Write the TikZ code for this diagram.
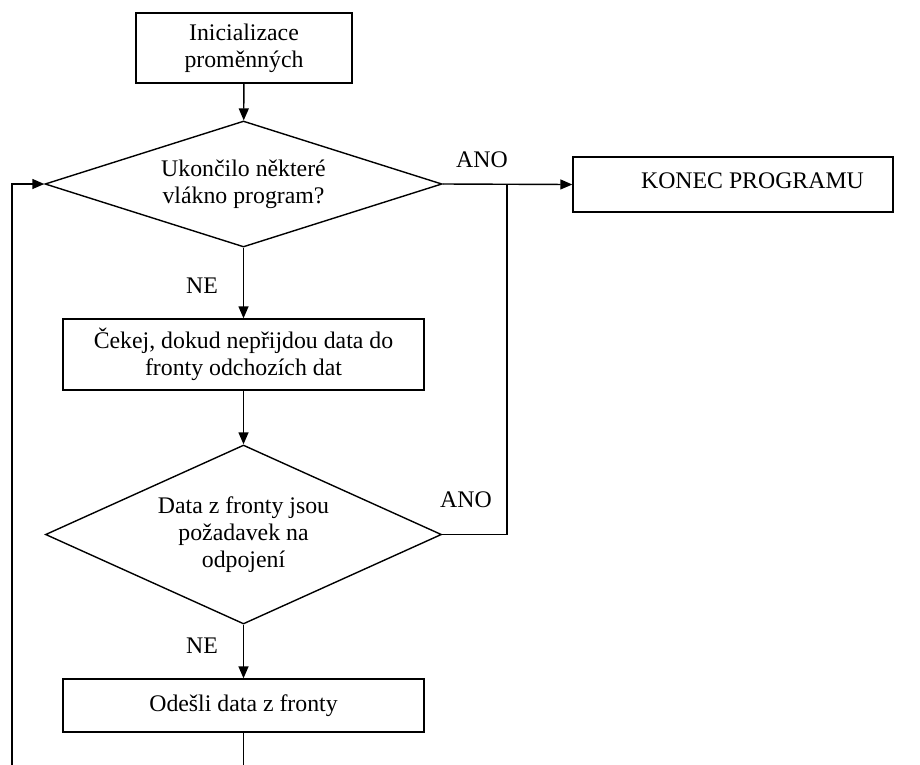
\documentclass[tikz,border=0pt]{standalone}
\usepackage{fontspec}
\setmainfont{Liberation Serif}
\usetikzlibrary{arrows.meta,shapes.geometric}
\begin{document}
\begin{tikzpicture}[x=1pt,y=-1pt,
  every node/.style={font=\fontsize{23.8}{27}\selectfont},
  line/.style={line width=1.4pt},
  flow/.style={line, -{Triangle[length=12pt,width=10pt]}},
  stepbox/.style={draw, line width=1.4pt, inner sep=0pt, align=center},
  decision/.style={draw, diamond, line width=1.4pt, inner sep=0pt, align=center},
  answer/.style={inner sep=0pt, anchor=base}]
  \useasboundingbox (0,0) rectangle (920,764);

  % process boxes
  \node[stepbox, minimum width=216pt, minimum height=70pt] (init) at (244,48)
    {Inicializace\\proměnných};
  \node[stepbox, minimum width=361pt, minimum height=71pt] (wait) at (243.5,354.5)
    {Čekej, dokud nepřijdou data do\\fronty odchozích dat};
  \node[stepbox, minimum width=361pt, minimum height=53pt] (send) at (243.5,705.5)
    {Odešli data z fronty};
  \node[stepbox, minimum width=320pt, minimum height=55pt] (konec) at (733,184.5) {};
  \node[inner sep=0pt] (konectext) at (752.5,181) {KONEC PROGRAMU};

  % decisions
  \node[decision, minimum width=397pt, minimum height=126pt, shape aspect=3.15]
    (d1) at (243.5,184) {Ukončilo některé\\vlákno program?};
  \node[decision, minimum width=396pt, minimum height=179pt, shape aspect=2.2]
    (d2) at (243.5,534.5) {Data z fronty jsou\\požadavek na\\odpojení};

  % main flow
  \draw[flow] (init) -- (d1);
  \draw[flow] (d1) -- (wait);
  \draw[flow] (wait) -- (d2);
  \draw[flow] (d2) -- (send);
  \draw[flow] (d1.east) -- (konec.west);

  % disconnect request joins the exit path
  \coordinate (join) at (507,184);
  \draw[line] (d2.east) -| (join);

  % loop back to the first decision
  \coordinate (sendout) at (243.5,766);
  \coordinate (loopout) at (12,766);
  \draw[line] (send.south) -- (sendout);
  \draw[flow] (loopout) |- (d1.west);

  % branch labels
  \node[answer] (ano1) at (482,167) {ANO};
  \node[answer] (ano2) at (466,507) {ANO};
  \node[answer] (ne1) at (202,293) {NE};
  \node[answer] (ne2) at (202,653) {NE};
\end{tikzpicture}
\end{document}
